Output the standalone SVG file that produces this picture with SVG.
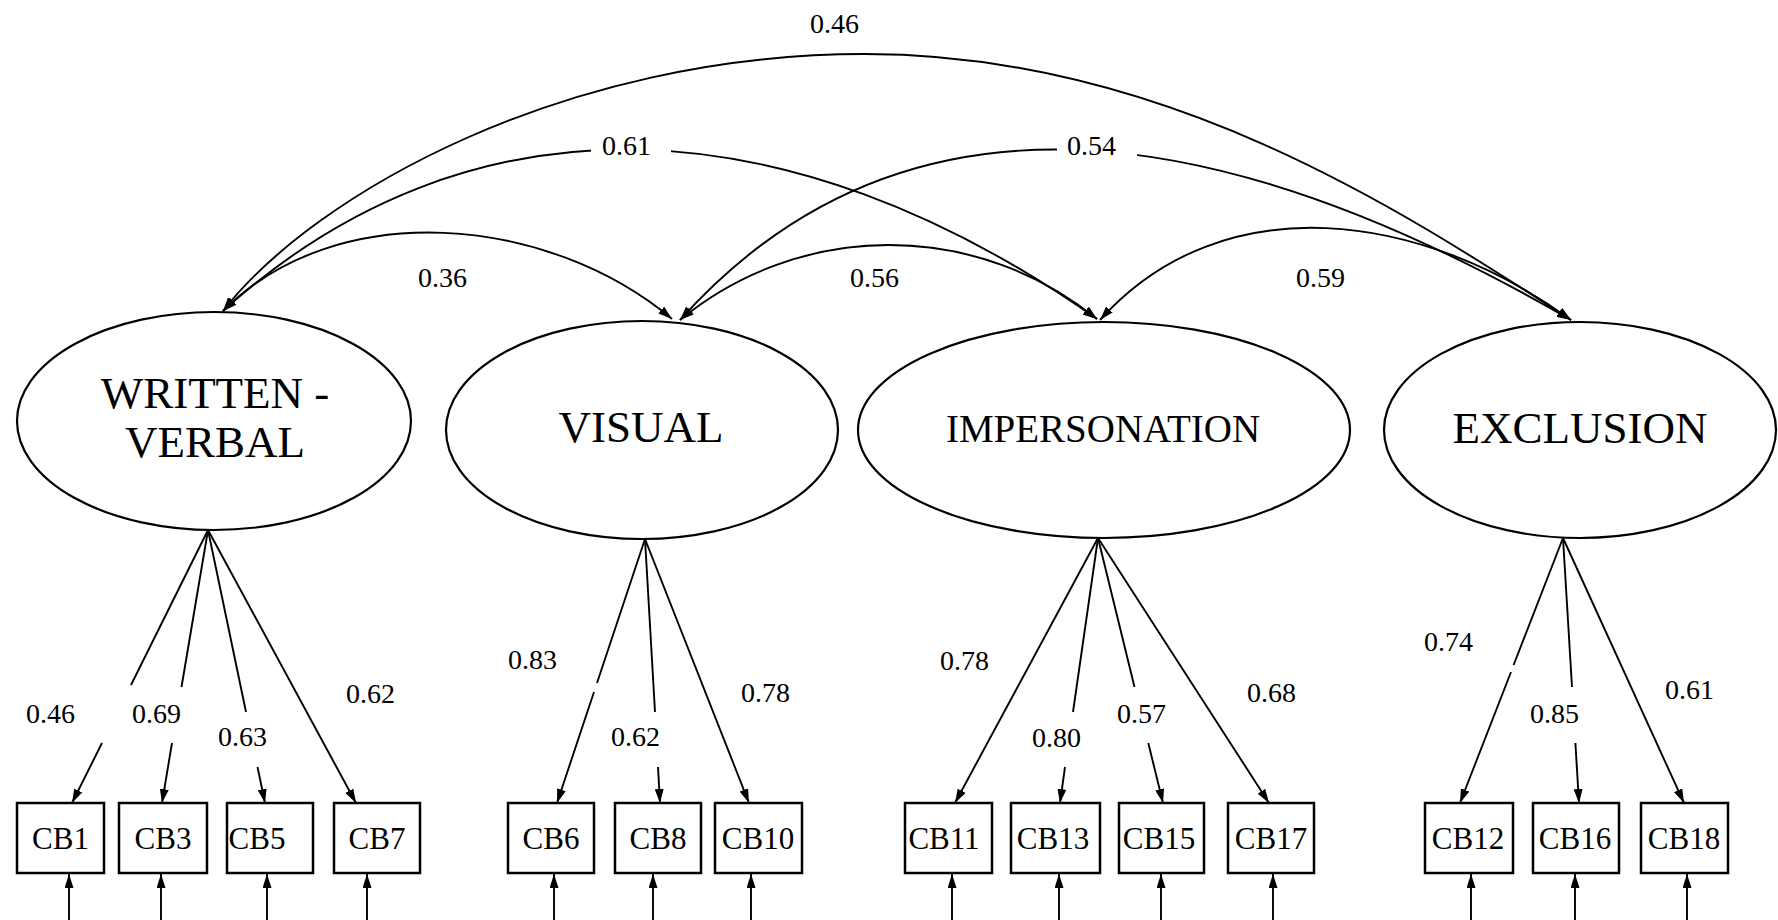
<svg xmlns="http://www.w3.org/2000/svg" width="1778" height="920" viewBox="0 0 1778 920">
  <defs>
    <!-- filled arrowhead used by every path; reversed automatically at path starts -->
    <marker id="ah" viewBox="0 0 14 9" refX="14" refY="4.5" markerWidth="14" markerHeight="9" markerUnits="userSpaceOnUse" orient="auto-start-reverse">
      <path d="M0,0 L14,4.5 L0,9 z" fill="#000"/>
    </marker>
  </defs>
  <style>
    .lat{fill:#fff;stroke:#000;stroke-width:2.2}
    .obs{fill:#fff;stroke:#000;stroke-width:2.5}
    .ln{fill:none;stroke:#000;stroke-width:1.9}
    .cov{fill:none;stroke:#000;stroke-width:1.9;marker-start:url(#ah);marker-end:url(#ah)}
    .arr{marker-end:url(#ah)}
    .t{font-family:"Liberation Serif","Times New Roman",serif;fill:#000}
    .big{font-size:45px;text-anchor:middle}
    .mid{font-size:39px;text-anchor:middle}
    .box{font-size:31px;text-anchor:middle}
    .num{font-size:28px}
  </style>
  <rect width="1778" height="920" fill="#fff"/>

  <!-- connectors: covariances, loadings, error terms -->
  <g id="connectors">
    <!-- covariance curves between factors -->
    <path class="cov" d="M223,311 C315,193 565,54 865,54 C1165,54 1403,211 1571,320"/>
    <path class="cov" d="M223,311 C468,89 786,100 1097,319"/>
    <path class="cov" d="M680,320 C907,67 1226,120 1571,320"/>
    <path class="cov" d="M223,311 C337,196 548,215 672,319"/>
    <path class="cov" d="M680,320 A329,329 0 0 1 1097,319"/>
    <path class="cov" d="M1100,320 C1223,183 1423,212 1571,320"/>

    <!-- loadings: WRITTEN - VERBAL -->
    <path class="ln" d="M208,530 L131,685"/>
    <path class="ln arr" d="M102,743 L72,803"/>
    <path class="ln" d="M208,530 L181.5,687"/>
    <path class="ln arr" d="M172,743 L162,803"/>
    <path class="ln" d="M208,530 L246,712"/>
    <path class="ln arr" d="M257.5,767 L265,803"/>
    <path class="ln arr" d="M208,530 L356,803"/>

    <!-- loadings: VISUAL -->
    <path class="ln" d="M645,539 L597,683"/>
    <path class="ln arr" d="M594,692 L557,803"/>
    <path class="ln" d="M645,539 L655,712"/>
    <path class="ln arr" d="M658,767 L660,803"/>
    <path class="ln arr" d="M645,539 L749,803"/>

    <!-- loadings: IMPERSONATION -->
    <path class="ln arr" d="M1098,538 L955,803"/>
    <path class="ln" d="M1098,538 L1073,712"/>
    <path class="ln arr" d="M1065,767 L1060,803"/>
    <path class="ln" d="M1098,538 L1134.5,687"/>
    <path class="ln arr" d="M1148.3,743 L1163,803"/>
    <path class="ln arr" d="M1098,538 L1269,803"/>

    <!-- loadings: EXCLUSION -->
    <path class="ln" d="M1563,538 L1513.6,665"/>
    <path class="ln arr" d="M1511,672 L1460,803"/>
    <path class="ln" d="M1563,538 L1572,687"/>
    <path class="ln arr" d="M1575.4,743 L1579,803"/>
    <path class="ln arr" d="M1563,538 L1684,803"/>

    <!-- error terms below the indicators -->
    <path class="ln arr" d="M69,920 L69,874"/>
    <path class="ln arr" d="M161,920 L161,874"/>
    <path class="ln arr" d="M267,920 L267,874"/>
    <path class="ln arr" d="M367,920 L367,874"/>
    <path class="ln arr" d="M554,920 L554,874"/>
    <path class="ln arr" d="M653,920 L653,874"/>
    <path class="ln arr" d="M751,920 L751,874"/>
    <path class="ln arr" d="M952,920 L952,874"/>
    <path class="ln arr" d="M1059,920 L1059,874"/>
    <path class="ln arr" d="M1161,920 L1161,874"/>
    <path class="ln arr" d="M1273,920 L1273,874"/>
    <path class="ln arr" d="M1471,920 L1471,874"/>
    <path class="ln arr" d="M1575,920 L1575,874"/>
    <path class="ln arr" d="M1687,920 L1687,874"/>
  </g>

  <!-- coefficient labels -->
  <g id="labels" class="t num">
    <rect x="591" y="132" width="80" height="32" fill="#fff"/>
    <rect x="1057" y="132" width="80" height="32" fill="#fff"/>
    <text x="810" y="33">0.46</text>
    <text x="602" y="155">0.61</text>
    <text x="1067" y="155">0.54</text>
    <text x="418" y="287">0.36</text>
    <text x="850" y="287">0.56</text>
    <text x="1296" y="287">0.59</text>

    <text x="26" y="723">0.46</text>
    <text x="132" y="723">0.69</text>
    <text x="218" y="746">0.63</text>
    <text x="346" y="703">0.62</text>
    <text x="508" y="669">0.83</text>
    <text x="611" y="746">0.62</text>
    <text x="741" y="702">0.78</text>
    <text x="940" y="670">0.78</text>
    <text x="1032" y="747">0.80</text>
    <text x="1117" y="723">0.57</text>
    <text x="1247" y="702">0.68</text>
    <text x="1424" y="651">0.74</text>
    <text x="1530" y="723">0.85</text>
    <text x="1665" y="699">0.61</text>
  </g>

  <!-- latent factors -->
  <g id="written-verbal">
    <ellipse class="lat" cx="214" cy="421" rx="197" ry="109"/>
    <text class="t big" x="215" y="408">WRITTEN -</text>
    <text class="t big" x="215" y="457">VERBAL</text>
  </g>
  <g id="visual">
    <ellipse class="lat" cx="642" cy="430" rx="196" ry="109"/>
    <text class="t big" x="641" y="442">VISUAL</text>
  </g>
  <g id="impersonation">
    <ellipse class="lat" cx="1104" cy="430" rx="246" ry="108"/>
    <text class="t mid" x="1103" y="442">IMPERSONATION</text>
  </g>
  <g id="exclusion">
    <ellipse class="lat" cx="1580" cy="430" rx="196" ry="108"/>
    <text class="t big" x="1580" y="443">EXCLUSION</text>
  </g>

  <!-- observed indicators -->
  <g id="cb1"><rect class="obs" x="17" y="803" width="87" height="70"/><text class="t box" x="60.5" y="849">CB1</text></g>
  <g id="cb3"><rect class="obs" x="119" y="803" width="88" height="70"/><text class="t box" x="163" y="849">CB3</text></g>
  <g id="cb5"><rect class="obs" x="227" y="803" width="86" height="70"/><text class="t box" x="257" y="849">CB5</text></g>
  <g id="cb7"><rect class="obs" x="334" y="803" width="86" height="70"/><text class="t box" x="377" y="849">CB7</text></g>
  <g id="cb6"><rect class="obs" x="508" y="803" width="86" height="70"/><text class="t box" x="551" y="849">CB6</text></g>
  <g id="cb8"><rect class="obs" x="615" y="803" width="86" height="70"/><text class="t box" x="658" y="849">CB8</text></g>
  <g id="cb10"><rect class="obs" x="715" y="803" width="87" height="70"/><text class="t box" x="758" y="849">CB10</text></g>
  <g id="cb11"><rect class="obs" x="905" y="803" width="87" height="70"/><text class="t box" x="944" y="849">CB11</text></g>
  <g id="cb13"><rect class="obs" x="1011" y="803" width="89" height="70"/><text class="t box" x="1053" y="849">CB13</text></g>
  <g id="cb15"><rect class="obs" x="1119" y="803" width="85" height="70"/><text class="t box" x="1159" y="849">CB15</text></g>
  <g id="cb17"><rect class="obs" x="1228" y="803" width="86" height="70"/><text class="t box" x="1271" y="849">CB17</text></g>
  <g id="cb12"><rect class="obs" x="1425" y="803" width="88" height="70"/><text class="t box" x="1468" y="849">CB12</text></g>
  <g id="cb16"><rect class="obs" x="1533" y="803" width="86" height="70"/><text class="t box" x="1575" y="849">CB16</text></g>
  <g id="cb18"><rect class="obs" x="1641" y="803" width="87" height="70"/><text class="t box" x="1684" y="849">CB18</text></g>
</svg>
